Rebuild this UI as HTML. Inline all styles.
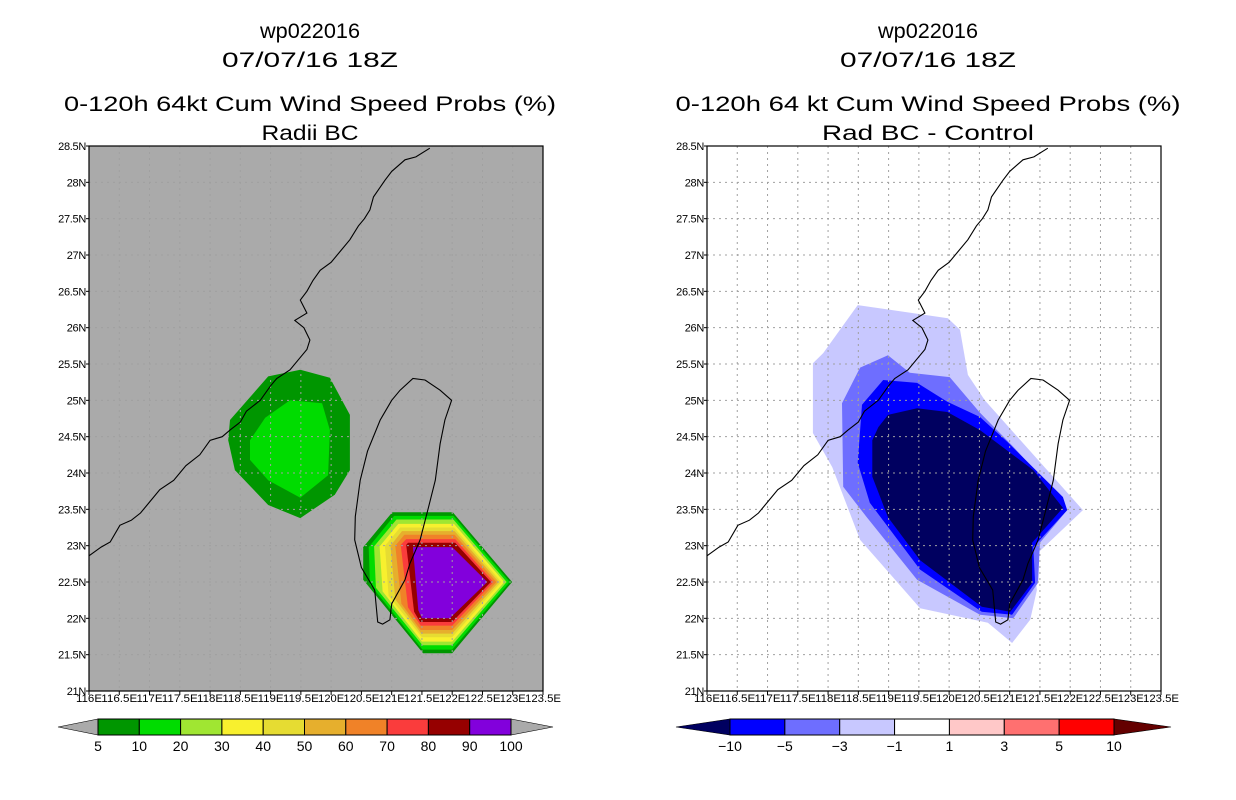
<!DOCTYPE html>
<html><head><meta charset="utf-8"><style>
html,body{margin:0;padding:0;background:#fff;}
svg{display:block;font-family:"Liberation Sans",sans-serif;}
</style></head><body>
<svg id="c" width="1236" height="800" viewBox="0 0 1236 800" xmlns="http://www.w3.org/2000/svg"></svg>
<script>
// ---------- data ----------
const lonTicks=[116,116.5,117,117.5,118,118.5,119,119.5,120,120.5,121,121.5,122,122.5,123,123.5];
const latTicks=[21,21.5,22,22.5,23,23.5,24,24.5,25,25.5,26,26.5,27,27.5,28,28.5];
const probLevels=['5','10','20','30','40','50','60','70','80','90','100'];
const probColors=['#009600','#00dc00','#a0e632','#f8f02e','#e6dc32','#e6af2d','#f08228','#fa3c3c','#960000','#8200dc'];
const diffLevels=['\u221210','\u22125','\u22123','\u22121','1','3','5','10'];
const diffColors=['#0000ff','#6e6eff','#c8c8ff','#ffffff','#ffc8c8','#ff7070','#ff0000'];
// left panel contours [lon,lat]
const greenOuter=[[118.33,24.73],[118.96,25.33],[119.49,25.42],[119.98,25.31],[120.31,24.80],[120.31,24.04],[120.06,23.70],[119.49,23.38],[118.96,23.56],[118.41,24.04],[118.30,24.45]];
const greenInner=[[118.66,24.45],[118.91,24.76],[119.32,25.0],[119.85,24.96],[119.98,24.59],[119.95,23.97],[119.49,23.66],[118.96,23.90],[118.66,24.18]];
const hexRings=[
[[121.01,23.46],[122.01,23.46],[122.99,22.50],[122.00,21.52],[121.52,21.52],[120.53,22.53],[120.53,22.98]],
[[121.04,23.41],[122.02,23.41],[122.95,22.50],[122.00,21.57],[121.51,21.57],[120.64,22.47],[120.62,22.98]],
[[121.08,23.36],[122.02,23.36],[122.90,22.50],[122.00,21.63],[121.51,21.63],[120.74,22.42],[120.71,22.99]],
[[121.11,23.30],[122.03,23.30],[122.86,22.50],[122.00,21.68],[121.50,21.68],[120.85,22.37],[120.80,22.99]],
[[121.14,23.25],[122.03,23.25],[122.81,22.50],[122.00,21.74],[121.50,21.74],[120.95,22.31],[120.89,23.00]],
[[121.17,23.20],[122.04,23.20],[122.77,22.50],[122.00,21.79],[121.49,21.79],[121.06,22.26],[120.98,23.00]],
[[121.21,23.15],[122.04,23.15],[122.73,22.50],[122.00,21.84],[121.48,21.84],[121.16,22.20],[121.06,23.00]],
[[121.24,23.09],[122.05,23.09],[122.68,22.50],[122.00,21.90],[121.48,21.90],[121.27,22.15],[121.15,23.01]],
[[121.27,23.04],[122.05,23.04],[122.64,22.50],[122.00,21.95],[121.47,21.95],[121.37,22.09],[121.24,23.01]],
[[121.35,22.98],[122.0,22.98],[122.58,22.5],[121.96,22.0],[121.5,22.0],[121.44,22.11],[121.35,22.98]]];
// right panel contours
const diffLight=[[118.49,26.31],[119.98,26.13],[120.18,25.97],[120.31,25.35],[120.59,25.0],[122.21,23.49],[121.39,22.84],[121.45,22.39],[121.34,21.98],[121.04,21.66],[120.64,21.94],[119.52,22.14],[118.53,23.08],[118.07,24.08],[117.75,24.55],[117.75,25.51],[117.92,25.65]];
const diffMed=[[118.99,25.62],[119.35,25.38],[120.01,25.32],[120.51,24.83],[121.06,24.36],[121.83,23.67],[121.95,23.49],[121.50,23.04],[121.47,22.49],[121.06,22.0],[120.51,22.05],[119.47,22.53],[118.64,23.39],[118.25,23.81],[118.23,24.96],[118.53,25.45]];
const diffBlue=[[118.91,25.28],[119.47,25.24],[119.97,24.98],[120.51,24.77],[120.96,24.43],[121.88,23.67],[121.95,23.49],[121.39,22.98],[121.42,22.49],[121.04,22.05],[120.54,22.09],[119.52,22.67],[118.69,23.59],[118.49,24.14],[118.56,24.94]];
const diffNavy=[[118.99,24.80],[119.47,24.89],[119.97,24.84],[120.51,24.59],[121.39,24.04],[121.88,23.52],[121.37,23.04],[121.37,22.49],[121.01,22.09],[120.54,22.16],[119.52,22.80],[118.99,23.39],[118.73,23.95],[118.73,24.45],[118.83,24.63]];
const chinaCoast=[[116.0,22.86],[116.2,22.98],[116.35,23.05],[116.51,23.28],[116.7,23.35],[116.85,23.45],[117.0,23.6],[117.17,23.77],[117.4,23.9],[117.6,24.1],[117.83,24.25],[118.0,24.45],[118.2,24.5],[118.33,24.59],[118.5,24.7],[118.6,24.85],[118.83,25.0],[119.0,25.2],[119.1,25.3],[119.32,25.42],[119.5,25.6],[119.6,25.7],[119.65,25.83],[119.55,26.0],[119.4,26.1],[119.6,26.2],[119.49,26.38],[119.6,26.5],[119.7,26.65],[119.82,26.79],[120.0,26.9],[120.15,27.05],[120.31,27.21],[120.45,27.4],[120.55,27.5],[120.64,27.62],[120.7,27.8],[120.89,28.03],[121.0,28.15],[121.22,28.31],[121.4,28.35],[121.63,28.47]];
const taiwanCoast=[[121.55,25.28],[121.80,25.14],[121.99,25.0],[121.88,24.73],[121.8,24.4],[121.72,23.90],[121.6,23.5],[121.47,23.08],[121.3,22.75],[121.22,22.53],[121.0,22.2],[120.97,21.98],[120.85,21.92],[120.77,21.95],[120.72,22.39],[120.5,22.7],[120.39,23.08],[120.4,23.4],[120.48,23.90],[120.6,24.3],[120.81,24.73],[121.0,25.0],[121.14,25.14],[121.35,25.3],[121.55,25.28]];

// ---------- drawing ----------
const NS='http://www.w3.org/2000/svg';
const svg=document.getElementById('c');
function mk(tag,attrs,parent){const e=document.createElementNS(NS,tag);for(const k in attrs)e.setAttribute(k,attrs[k]);(parent||svg).appendChild(e);return e;}
const W=454,H=545,Y0=146;
function xs(ox,lon){return ox+(lon-116)/7.5*W;}
function ys(lat){return Y0+(28.5-lat)/7.5*H;}
function pts(ox,arr){return arr.map(p=>xs(ox,p[0]).toFixed(1)+','+ys(p[1]).toFixed(1)).join(' ');}

function titles(cx,l3,l4,pref){
  const t=[['wp022016',38,100],['07/07/16 18Z',67,176],[l3,111,l3.length>36?505:492],[l4,140,l4.length>10?212:97]];
  const names=['storm-id-title','date-title','product-title','subtitle'];
  t.forEach((r,i)=>{const e=mk('text',{x:cx,y:r[1],'text-anchor':'middle','font-size':21,textLength:r[2],lengthAdjust:'spacingAndGlyphs',fill:'#000'});
    e.textContent=r[0];
    
    });
}
function panel(ox,bg,grid,pref){
  const g=mk('g',{});
  
  
  mk('rect',{x:ox,y:Y0,width:W,height:H,fill:bg},g);
  return g;
}
function gridAndAxes(g,ox,gridColor,pref){
  lonTicks.forEach((v,i)=>{const x=xs(ox,v);
    if(i>0&&i<lonTicks.length-1){const l=mk('line',{x1:x,y1:Y0,x2:x,y2:Y0+H,stroke:gridColor,'stroke-width':1,'stroke-dasharray':'2,4'},g);
      
      }
    const t=mk('text',{x:x,y:702,'text-anchor':'middle','font-size':11,textLength:v%1===0?26:36,lengthAdjust:'spacingAndGlyphs',fill:'#000'});
    t.textContent=v+'E';
    
    
    mk('line',{x1:x,y1:Y0+H,x2:x,y2:Y0+H+4,stroke:'#000'});});
  latTicks.forEach((v,i)=>{const y=ys(v);
    if(i>0&&i<latTicks.length-1){const l=mk('line',{x1:ox,y1:y,x2:ox+W,y2:y,stroke:gridColor,'stroke-width':1,'stroke-dasharray':'2,4'},g);
      
      }
    const t=mk('text',{x:ox-3,y:y+4,'text-anchor':'end','font-size':11,fill:'#000','letter-spacing':'-0.3'});
    t.textContent=v+'N';
    
    
    mk('line',{x1:ox-3,y1:y,x2:ox,y2:y,stroke:'#000'});});
}
function coasts(g,ox,pref){
  [chinaCoast,taiwanCoast].forEach((c,i)=>{const p=mk('polyline',{points:pts(ox,c),fill:'none',stroke:'#000','stroke-width':1.1},g);
    
    });
  const fr=mk('rect',{x:ox,y:Y0,width:W,height:H,fill:'none',stroke:'#000','stroke-width':1.2},g);
  
  
}
function poly(g,ox,arr,fill,name){const p=mk('polygon',{points:pts(ox,arr),fill:fill},g);
  
  }

// Left panel
titles(310,'0-120h 64kt Cum Wind Speed Probs (%)','Radii BC','left');
const gL=panel(89,'#aaaaaa','#a0a0a0','left');
poly(gL,89,greenOuter,probColors[0],'prob-contour-5');
poly(gL,89,greenInner,probColors[1],'prob-contour-10');
hexRings.forEach((r,i)=>poly(gL,89,r,probColors[i],'prob-contour-'+probLevels[i]));
gridAndAxes(gL,89,'#a0a0a0','left');
coasts(gL,89,'left');

// Right panel
titles(928,'0-120h 64 kt Cum Wind Speed Probs (%)','Rad BC - Control','right');
const gR=panel(707,'#ffffff','#a0a0a0','right');
poly(gR,707,diffLight,'#c8c8ff','diff-contour-minus1');
poly(gR,707,diffMed,'#6e6eff','diff-contour-minus3');
poly(gR,707,diffBlue,'#0000ff','diff-contour-minus5');
poly(gR,707,diffNavy,'#000060','diff-contour-minus10');
gridAndAxes(gR,707,'#a0a0a0','right');
coasts(gR,707,'right');

// Colorbars
function colorbar(x0,x1,tipL,tipR,colors,labels,triL,triR,pref){
  const g=mk('g',{});
  
  
  const y0=719,y1=735,ym=727,n=colors.length,bw=(x1-x0)/n;
  mk('polygon',{points:`${tipL},${ym} ${x0},${y0} ${x0},${y1}`,fill:triL,stroke:'#000','stroke-width':0.6},g);
  mk('polygon',{points:`${tipR},${ym} ${x1},${y0} ${x1},${y1}`,fill:triR,stroke:'#000','stroke-width':0.6},g);
  colors.forEach((c,i)=>{const r=mk('rect',{x:x0+i*bw,y:y0,width:bw,height:y1-y0,fill:c,stroke:'#000','stroke-width':1},g);
    
    });
  labels.forEach((l,i)=>{const t=mk('text',{x:x0+i*bw,y:751,'text-anchor':'middle','font-size':14,fill:'#000'},g);
    t.textContent=l;
    
    });
}
colorbar(98,511,58,553,probColors,probLevels,'#aaaaaa','#aaaaaa','left');
colorbar(730,1114,676,1171,diffColors,diffLevels,'#000060','#640000','right');
</script>
</body></html>
